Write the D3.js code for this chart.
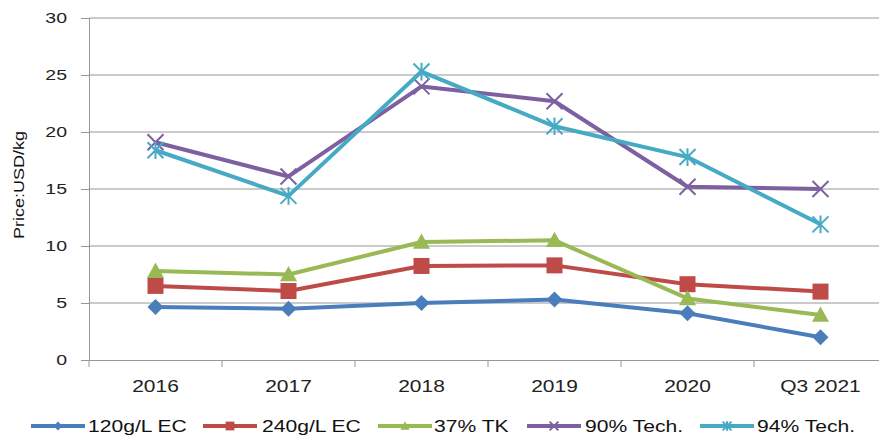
<!DOCTYPE html>
<html><head><meta charset="utf-8">
<script src="https://cdn.jsdelivr.net/npm/d3@7"></script>
<style>body{margin:0;background:#fff}svg{display:block}text{font-family:"Liberation Sans",Arial,sans-serif}</style>
</head><body>
<svg id="c" width="879" height="437"></svg>
<script>
const categories = ["2016","2017","2018","2019","2020","Q3 2021"];
const s120 = [4.65, 4.5, 5.0, 5.3, 4.1, 2.0];
const s240 = [6.5, 6.05, 8.25, 8.3, 6.65, 6.0];
const s37 = [7.8, 7.5, 10.35, 10.5, 5.4, 3.95];
const s90 = [19.1, 16.1, 24.0, 22.7, 15.2, 15.0];
const s94 = [18.4, 14.4, 25.3, 20.5, 17.8, 11.9];
const seriesNames = ["120g/L EC","240g/L EC","37% TK","90% Tech.","94% Tech."];
const yTicks = [0,5,10,15,20,25,30];

const series = [
  {name: seriesNames[0], values: s120, color: "#4a7ebb", marker: "diamond"},
  {name: seriesNames[1], values: s240, color: "#be4b48", marker: "square"},
  {name: seriesNames[2], values: s37, color: "#98b954", marker: "triangle"},
  {name: seriesNames[3], values: s90, color: "#7d60a0", marker: "x"},
  {name: seriesNames[4], values: s94, color: "#46aac5", marker: "star"}
];

const svg = d3.select("#c");
const x = d3.scaleBand().domain(categories).range([89, 887]);
const y = d3.scaleLinear().domain([0, 30]).range([360, 18]);

function stretch(sel, f) {
  sel.each(function() {
    const w = this.getComputedTextLength();
    d3.select(this).attr("textLength", w * f).attr("lengthAdjust", "spacingAndGlyphs");
  });
}

// gridlines
svg.append("g").selectAll("line").data(yTicks.filter(d => d > 0)).join("line")
  .attr("x1", 89).attr("x2", 879).attr("y1", d => y(d)).attr("y2", d => y(d))
  .attr("stroke", "#969696").attr("stroke-width", 1);

// y axis
const yAxis = svg.append("g").attr("transform", "translate(89,0)")
  .call(d3.axisLeft(y).tickValues(yTicks).tickSize(8).tickPadding(14));
yAxis.select(".domain").attr("stroke", "#969696");
yAxis.selectAll(".tick line").attr("stroke", "#969696");
yAxis.selectAll("text").attr("font-size", 15).attr("fill", "#222").call(stretch, 1.3);

// x axis
const xAxis = svg.append("g").attr("transform", "translate(0,360)")
  .call(d3.axisBottom(x).tickSize(0).tickPadding(20));
xAxis.select(".domain").attr("stroke", "#969696");
xAxis.selectAll("text").attr("font-size", 16.5).attr("fill", "#222").call(stretch, 1.27);
svg.append("g").selectAll("line").data(categories.concat(["_end"])).join("line")
  .attr("x1", (d, i) => 89 + i * x.bandwidth()).attr("x2", (d, i) => 89 + i * x.bandwidth())
  .attr("y1", 360).attr("y2", 367).attr("stroke", "#969696");

svg.append("text").attr("transform", "translate(24,185) rotate(-90)")
  .attr("text-anchor", "middle").attr("font-size", 15).attr("fill", "#111").text("Price:USD/kg")
  .call(stretch, 1.2);

const cx = d => x(d) + x.bandwidth() / 2;

function drawMarker(g, type, color, px, py, scale) {
  const s = scale || 1;
  if (type === "diamond") {
    const r = 8 * s;
    g.append("path").attr("d", `M${px},${py - r}L${px + r},${py}L${px},${py + r}L${px - r},${py}Z`).attr("fill", color);
  } else if (type === "square") {
    const r = 8 * s;
    g.append("rect").attr("x", px - r).attr("y", py - r).attr("width", 2 * r).attr("height", 2 * r).attr("fill", color);
  } else if (type === "triangle") {
    const r = 8.5 * s;
    g.append("path").attr("d", `M${px},${py - r}L${px + r},${py + r * 0.8}L${px - r},${py + r * 0.8}Z`).attr("fill", color);
  } else if (type === "x") {
    const r = 8 * s;
    g.append("path").attr("d", `M${px - r},${py - r}L${px + r},${py + r}M${px - r},${py + r}L${px + r},${py - r}`)
      .attr("stroke", color).attr("stroke-width", 2);
  } else if (type === "star") {
    const r = 8 * s;
    g.append("path").attr("d", `M${px - r},${py - r}L${px + r},${py + r}M${px - r},${py + r}L${px + r},${py - r}M${px},${py - r * 1.1}L${px},${py + r * 1.1}`)
      .attr("stroke", color).attr("stroke-width", 2);
  }
}

const line = d3.line().x((d, i) => cx(categories[i])).y(d => y(d));
series.forEach(s => {
  const g = svg.append("g");
  g.append("path").attr("d", line(s.values)).attr("fill", "none")
    .attr("stroke", s.color).attr("stroke-width", 4).attr("stroke-linejoin", "round");
  s.values.forEach((v, i) => drawMarker(g, s.marker, s.color, cx(categories[i]), y(v)));
});

// legend
const legX = [31, 203, 378, 527, 700];
const legTextX = [88, 262, 434, 585, 757];
series.forEach((s, i) => {
  const g = svg.append("g");
  const lx = legX[i], ly = 426;
  g.append("line").attr("x1", lx).attr("x2", lx + 54).attr("y1", ly).attr("y2", ly)
    .attr("stroke", s.color).attr("stroke-width", 4);
  drawMarker(g, s.marker, s.color, lx + 27, ly, 0.55);
  g.append("text").attr("x", legTextX[i]).attr("y", 432).attr("font-size", 17).attr("fill", "#111").text(s.name)
    .call(stretch, 1.24);
});
</script>
</body></html>
